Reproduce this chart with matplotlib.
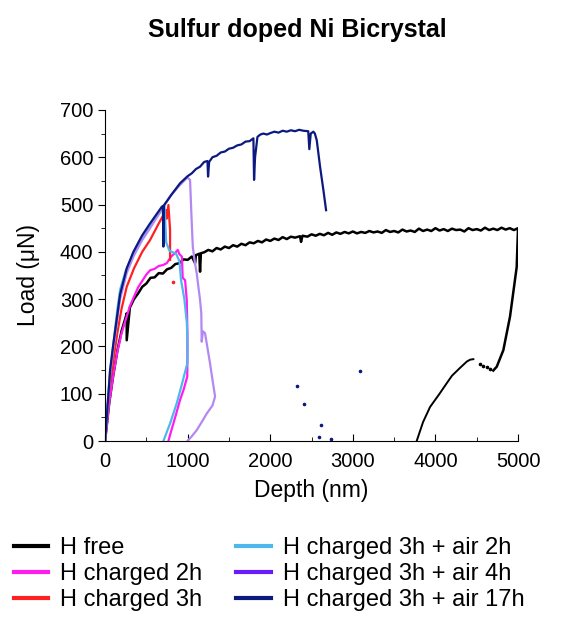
"""Load-depth curves, sulfur doped Ni bicrystal."""

import matplotlib

matplotlib.use("Agg")
import matplotlib.pyplot as plt
from matplotlib.lines import Line2D
from matplotlib.ticker import MultipleLocator

plt.rcParams["font.family"] = ["Liberation Sans", "DejaVu Sans"]

# H free: loading, unloading, then the separate low branch
free_x = [0, 50, 100, 150, 200, 250, 262, 262, 300, 350, 400, 450, 500, 550, 600, 650,
          700, 750, 800, 850, 900, 950, 1000, 1050, 1090, 1100, 1140, 1150, 1160, 1200,
          1250, 1300, 1350, 1400, 1450, 1500, 1550, 1600, 1650, 1700, 1750, 1800, 1850,
          1900, 1950, 2000, 2050, 2100, 2150, 2200, 2250, 2300, 2360, 2373, 2390, 2450,
          2500, 2550, 2600, 2650, 2700, 2750, 2800, 2850, 2900, 2950, 3000, 3050, 3100,
          3150, 3200, 3250, 3300, 3350, 3400, 3450, 3500, 3550, 3600, 3650, 3700, 3750,
          3800, 3850, 3900, 3950, 4000, 4050, 4100, 4150, 4200, 4250, 4300, 4350, 4400,
          4450, 4500, 4550, 4600, 4650, 4700, 4750, 4800, 4850, 4900, 4950, 5000,
          4984, 4903, 4822, 4742, 4700]
free_y = [0, 80, 140, 192, 233, 262, 270, 213, 282, 300, 312, 326, 333, 345, 346, 355,
          354, 363, 366, 374, 376, 384, 383, 390, 376, 393, 396, 358, 397, 399,
          404, 401, 408, 405, 411, 408, 414, 411, 417, 414, 420, 418, 423,
          420, 426, 423, 428, 425, 431, 427, 432, 430, 433, 421, 434, 432,
          437, 434, 438, 435, 440, 436, 441, 438, 442, 439, 443, 439, 442,
          440, 444, 441, 443, 440, 446, 442, 444, 441, 447, 443, 445, 442,
          449, 444, 447, 444, 450, 445, 448, 444, 449, 446, 447, 443, 450,
          446, 448, 445, 451, 446, 449, 446, 451, 447, 450, 446, 450,
          368, 263, 192, 157, 149]
free_tail_x = [4459, 4420, 4380, 4300, 4200, 4136, 4050, 3935, 3850, 3773]
free_tail_y = [173, 172, 168, 155, 138, 122, 100, 72, 40, 0]
free_dots_x = [4540, 4580, 4620, 4660]
free_dots_y = [162, 158, 156, 152]

# H charged 2h
c2_x = [0, 50, 100, 150, 200, 300, 400, 500, 545, 600, 650, 700, 747, 800, 850, 880,
        900, 930, 940, 969, 989, 997, 997, 995, 950, 908, 860, 827, 790, 767]
c2_y = [0, 80, 140, 190, 228, 285, 325, 352, 361, 364, 370, 372, 376, 390, 398, 404,
        395, 390, 345, 340, 298, 228, 180, 136, 108, 87, 57, 37, 15, 0]

# H charged 3h
c3_x = [0, 50, 100, 150, 200, 262, 350, 450, 545, 650, 720, 740, 745, 767, 787, 787]
c3_y = [0, 110, 170, 230, 280, 326, 365, 400, 425, 460, 482, 488, 470, 499, 446, 383]
c3_dot_x = [827]
c3_dot_y = [337]

# H charged 3h + air 2h
a2_x = [0, 30, 61, 100, 150, 182, 250, 343, 450, 545, 620, 686, 720, 740, 780, 860,
        900, 920, 960, 990, 1000, 997, 930, 868, 787, 706]
a2_y = [0, 75, 150, 205, 280, 320, 360, 397, 428, 453, 472, 488, 497, 420, 402, 396,
        380, 340, 300, 250, 200, 165, 120, 80, 37, 0]

# H charged 3h + air 4h
a4_x = [0, 61, 100, 182, 262, 343, 450, 545, 686, 800, 900, 989, 1005, 1029, 1045,
        1062, 1085, 1110, 1150, 1165, 1170, 1185, 1210, 1231, 1271, 1300, 1332, 1300,
        1231, 1170, 1110, 1050, 997]
a4_y = [0, 140, 195, 300, 355, 390, 425, 450, 490, 520, 540, 556, 556, 552, 480,
        411, 380, 354, 298, 270, 210, 232, 228, 206, 164, 130, 94, 75,
        58, 40, 23, 10, 0]

# H charged 3h + air 17h
a17_x = [0, 61, 100, 182, 262, 343, 450, 545, 686, 700, 706, 712, 800, 908, 1000,
         1050, 1100, 1150, 1200, 1240, 1247, 1260, 1300, 1350, 1400, 1450, 1500, 1550,
         1600, 1650, 1700, 1750, 1796, 1804, 1816, 1845, 1880, 1917, 1960, 2000, 2050,
         2100, 2150, 2200, 2250, 2300, 2350, 2400, 2460, 2473, 2490, 2522, 2540, 2563,
         2603, 2643, 2676]
a17_y = [0, 150, 205, 310, 365, 400, 435, 460, 495, 497, 411, 498, 520, 545, 560,
         566, 575, 580, 590, 592, 559, 590, 600, 603, 610, 612, 618, 620,
         625, 627, 633, 634, 640, 552, 600, 643, 648, 650, 648, 651, 654,
         652, 656, 654, 657, 655, 658, 656, 655, 617, 650, 654, 650, 636,
         580, 531, 488]
a17_dots_x = [2328, 2409, 2611, 2595, 2732, 3087]
a17_dots_y = [116, 78, 34, 9, 5, 147]

col_free = "#000000"
col_c2 = "#ff1cf0"
col_c3 = "#ff2020"
col_a2 = "#4db8ee"
col_a4 = "#b388f2"
col_a4_legend = "#6a1aff"
col_a17 = "#0c1a80"

fig = plt.figure(figsize=(5.87, 6.2), dpi=100)
ax = fig.add_axes([0.179, 0.2887, 0.7035, 0.534])

ax.plot(free_x, free_y, color=col_free, lw=1.8)
ax.plot(free_tail_x, free_tail_y, color=col_free, lw=1.4)
ax.plot(free_dots_x, free_dots_y, ls="none", marker="o", ms=1.6, color=col_free)
ax.plot(c2_x, c2_y, color=col_c2, lw=1.6)
ax.plot(c3_x, c3_y, color=col_c3, lw=1.6)
ax.plot(c3_dot_x, c3_dot_y, ls="none", marker="o", ms=1.6, color=col_c3)
ax.plot(a2_x, a2_y, color=col_a2, lw=1.6)
ax.plot(a4_x, a4_y, color=col_a4, lw=1.6)
ax.plot(a17_x, a17_y, color=col_a17, lw=1.6)
ax.plot(a17_dots_x, a17_dots_y, ls="none", marker="o", ms=1.6, color=col_a17)

ax.set_xlim(0, 5000)
ax.set_ylim(0, 700)
ax.xaxis.set_major_locator(MultipleLocator(1000))
ax.xaxis.set_minor_locator(MultipleLocator(500))
ax.yaxis.set_major_locator(MultipleLocator(100))
ax.yaxis.set_minor_locator(MultipleLocator(50))
ax.tick_params(axis="x", which="both", direction="in", labelsize=14.5, pad=8)
ax.tick_params(axis="x", which="major", length=5)
ax.tick_params(axis="x", which="minor", length=3)
ax.tick_params(axis="y", which="both", direction="out", labelsize=14.5)
ax.tick_params(axis="y", which="major", length=5)
ax.tick_params(axis="y", which="minor", length=3)
for side in ("top", "right"):
    ax.spines[side].set_visible(False)
ax.set_xlabel("Depth (nm)", fontsize=16.5, labelpad=6)
ax.set_ylabel("Load (\u03bcN)", fontsize=16.5, labelpad=14)

fig.text(0.506, 0.952, "Sulfur doped Ni Bicrystal", ha="center", va="center",
         fontsize=18, fontweight="bold")

labels = ["H free", "H charged 2h", "H charged 3h",
          "H charged 3h + air 2h", "H charged 3h + air 4h", "H charged 3h + air 17h"]
colors = [col_free, col_c2, col_c3, col_a2, col_a4_legend, col_a17]
handles = [Line2D([], [], color=c, lw=3) for c in colors]
fig.legend(handles, labels, loc="upper left", bbox_to_anchor=(0.024, 0.134),
           ncol=2, frameon=False, fontsize=17, handlelength=1.45, handletextpad=0.5,
           labelspacing=0.18, columnspacing=1.45, borderpad=0, borderaxespad=0)

fig.savefig("out.png", dpi=100)
plt.close(fig)
